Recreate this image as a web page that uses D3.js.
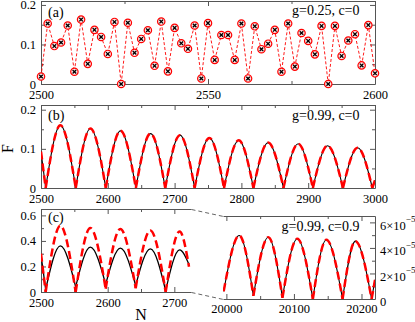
<!DOCTYPE html>
<html>
<head>
<meta charset="utf-8">
<script src="https://cdn.jsdelivr.net/npm/d3@7"></script>
<style>
  body { margin: 0; background: #fff; }
  svg text { font-family: "Liberation Serif", "DejaVu Serif", serif; fill: #000; }
</style>
</head>
<body>
<svg id="chart" width="415" height="322"></svg>
<script>
// (a) g=0.25, c=0 : discrete points
const aN = [2500, 2502, 2504, 2506, 2508, 2510, 2512, 2514, 2516, 2518, 2520, 2522, 2524, 2526, 2528, 2530, 2532,
  2534, 2536, 2538, 2540, 2542, 2544, 2546, 2548, 2550, 2552, 2554, 2556, 2558, 2560, 2562, 2564, 2566, 2568,
  2570, 2572, 2574, 2576, 2578, 2580, 2582, 2584, 2586, 2588, 2590, 2592, 2594, 2596, 2598, 2600];
const aF = [0.019, 0.153, 0.096, 0.105, 0.148, 0.031, 0.163, 0.051, 0.137, 0.119, 0.076, 0.157, 0.0, 0.155, 0.079,
  0.114, 0.136, 0.046, 0.158, 0.032, 0.142, 0.103, 0.089, 0.148, 0.014, 0.154, 0.061, 0.124, 0.124, 0.061, 0.153,
  0.014, 0.146, 0.088, 0.102, 0.137, 0.031, 0.153, 0.044, 0.129, 0.109, 0.075, 0.147, 0.0, 0.147, 0.071, 0.110,
  0.126, 0.047, 0.149, 0.027];

// (b) g=0.99, c=0 : extrema of the curve
const bN = [2500, 2507, 2529, 2552, 2574, 2597, 2619, 2642, 2664, 2686, 2708, 2730, 2752, 2774, 2796, 2818, 2840,
  2863, 2885, 2907, 2929, 2952, 2974, 2996, 3000];
const bF = [0.093, 0, 0.160, 0, 0.152, 0, 0.146, 0, 0.139, 0, 0.135, 0, 0.128, 0, 0.122, 0, 0.116, 0, 0.113, 0,
  0.108, 0, 0.103, 0, 0.02];

// (c) g=0.99, c=0.9 : left part (two curves) and zoomed right part
const cN = [2500, 2507, 2529, 2552, 2574, 2597, 2619, 2642, 2664, 2687, 2708, 2722];
const cRed = [0.30, 0.0, 0.519, 0.0, 0.501, 0.025, 0.493, 0.03, 0.482, 0.0, 0.474, 0.198];
const cBlack = [0.29, 0.02, 0.361, 0.04, 0.351, 0.06, 0.343, 0.05, 0.338, 0.01, 0.33, 0.215];
const dN = [19996, 20019, 20040, 20062, 20083, 20105, 20128, 20148, 20172, 20191, 20215, 20220];
const dF = [0.6e-5, 4.97e-5, 0.25e-5, 4.84e-5, 0.1e-5, 4.72e-5, 0, 4.64e-5, 0, 4.53e-5, 0, 1.5e-5];

// tick values
const xTicksA = [2500, 2550, 2600], xMinorA = [2525, 2575];
const xTicksB = [2500, 2600, 2700, 2800, 2900, 3000], xMinorB = [2550, 2650, 2750, 2850, 2950];
const xTicksC = [2500, 2600, 2700], xMinorC = [2550, 2650];
const xTicksD = [20000, 20100, 20200], xMinorD = [20050, 20150];
const yTicksAB = [0, 0.1, 0.2], yMinorAB = [0.05, 0.15];
const yTicksC = [0, 0.2, 0.4, 0.6], yMinorC = [0.1, 0.3, 0.5];
const yTicksD = [0, 2e-5, 4e-5, 6e-5], yMinorD = [1e-5, 3e-5, 5e-5];

const svg = d3.select("#chart");
const frameColor = "#555";
const font = "Liberation Serif, DejaVu Serif, serif";

function panel(id, xd, yd, x0, x1, y0, y1) {
  const x = d3.scaleLinear().domain(xd).range([x0, x1]);
  const y = d3.scaleLinear().domain(yd).range([y1, y0]);
  svg.append("clipPath").attr("id", id)
    .append("rect").attr("x", x0).attr("y", y0).attr("width", x1 - x0).attr("height", y1 - y0);
  const g = svg.append("g");
  return { g, x, y, x0, x1, y0, y1, clip: `url(#${id})` };
}

function ticks(p, axis, tf, values, size, fmt, pad) {
  axis.tickValues(values).tickSize(-size).tickSizeOuter(0).tickPadding(pad || 5);
  axis.tickFormat(fmt || "");
  const s = p.g.append("g").attr("transform", tf).call(axis)
    .attr("font-size", 12.5).attr("font-family", font);
  s.select(".domain").remove();
  s.selectAll("line").attr("stroke", frameColor);
  return s;
}

function frame(p, sides) {
  const l = (a, b, c, d) => p.g.append("line")
    .attr("x1", a).attr("y1", b).attr("x2", c).attr("y2", d)
    .attr("stroke", frameColor).attr("stroke-width", 1);
  const X0 = p.x0 + 0.5, X1 = p.x1 + 0.5, Y0 = p.y0 + 0.5, Y1 = p.y1 + 0.5;
  if (sides.includes("t")) l(X0, Y0, X1, Y0);
  if (sides.includes("b")) l(X0, Y1, X1, Y1);
  if (sides.includes("l")) l(X0, Y0, X0, Y1);
  if (sides.includes("r")) l(X1, Y0, X1, Y1);
}

// split a curve into arches at its local minima (cusps)
function arches(N, F) {
  const segs = [];
  let cur = [];
  for (let i = 0; i < N.length; i++) {
    cur.push([N[i], F[i]]);
    if (i > 0 && i < N.length - 1 && F[i] <= F[i - 1] && F[i] <= F[i + 1]) {
      segs.push(cur);
      cur = [[N[i], F[i]]];
    }
  }
  if (cur.length > 1) segs.push(cur);
  return segs;
}

function curve(p, N, F, color, width, dash) {
  const line = d3.line().x(d => p.x(d[0])).y(d => p.y(d[1])).curve(d3.curveMonotoneX);
  p.g.append("g").attr("clip-path", p.clip)
    .selectAll("path").data(arches(N, F)).enter().append("path")
    .attr("d", line)
    .attr("fill", "none")
    .attr("stroke", color)
    .attr("stroke-width", width)
    .attr("stroke-dasharray", dash || null);
}

const fmt = d => d === 0 ? "0" : String(d);

// ---- panel (a)
const A = panel("clipA", [2500, 2600], [0, 0.21], 41, 375, 1, 84);
frame(A, "tblr");
ticks(A, d3.axisBottom(A.x), `translate(0,${A.y1})`, xTicksA, 5, fmt, 6.5);
ticks(A, d3.axisBottom(A.x), `translate(0,${A.y1})`, xMinorA, 3);
ticks(A, d3.axisTop(A.x), `translate(0,${A.y0})`, xTicksA, 5);
ticks(A, d3.axisTop(A.x), `translate(0,${A.y0})`, xMinorA, 3);
ticks(A, d3.axisLeft(A.y), `translate(${A.x0},0)`, yTicksAB, 5, fmt);
ticks(A, d3.axisLeft(A.y), `translate(${A.x0},0)`, yMinorAB, 3);
ticks(A, d3.axisRight(A.y), `translate(${A.x1},0)`, yTicksAB, 5);
ticks(A, d3.axisRight(A.y), `translate(${A.x1},0)`, yMinorAB, 3);

A.g.append("path")
  .datum(aN.map((n, i) => [n, aF[i]]))
  .attr("d", d3.line().x(d => A.x(d[0])).y(d => A.y(d[1])))
  .attr("fill", "none").attr("stroke", "#f00").attr("stroke-width", 0.9)
  .attr("stroke-dasharray", "3,2");
const marks = A.g.selectAll("g.mark").data(aN.map((n, i) => [n, aF[i]])).enter().append("g")
  .attr("class", "mark")
  .attr("transform", d => `translate(${A.x(d[0])},${A.y(d[1])})`);
marks.append("circle").attr("r", 3.7).attr("fill", "#ffe4e4").attr("stroke", "#f00").attr("stroke-width", 1.2);
marks.append("path").attr("d", "M-1.8,-1.8L1.8,1.8M-1.8,1.8L1.8,-1.8")
  .attr("stroke", "#000").attr("stroke-width", 1.3);

// ---- panel (b)
const B = panel("clipB", [2500, 3000], [0, 0.212], 41, 375, 105, 188);
frame(B, "tblr");
ticks(B, d3.axisBottom(B.x), `translate(0,${B.y1})`, xTicksB, 5, fmt, 6);
ticks(B, d3.axisBottom(B.x), `translate(0,${B.y1})`, xMinorB, 3);
ticks(B, d3.axisTop(B.x), `translate(0,${B.y0})`, xTicksB, 5);
ticks(B, d3.axisTop(B.x), `translate(0,${B.y0})`, xMinorB, 3);
ticks(B, d3.axisLeft(B.y), `translate(${B.x0},0)`, yTicksAB, 5, fmt);
ticks(B, d3.axisLeft(B.y), `translate(${B.x0},0)`, yMinorAB, 3);
ticks(B, d3.axisRight(B.y), `translate(${B.x1},0)`, yTicksAB, 5);
ticks(B, d3.axisRight(B.y), `translate(${B.x1},0)`, yMinorAB, 3);
curve(B, bN, bF, "#000", 1.1);
curve(B, bN, bF, "#f00", 2.5, "8,4");

// ---- panel (c), left part
const C = panel("clipC", [2500, 2725], [0, 0.65], 41, 191, 209, 292);
frame(C, "tbl");
ticks(C, d3.axisBottom(C.x), `translate(0,${C.y1})`, xTicksC, 5, fmt, 6);
ticks(C, d3.axisBottom(C.x), `translate(0,${C.y1})`, xMinorC, 3);
ticks(C, d3.axisTop(C.x), `translate(0,${C.y0})`, xTicksC, 5);
ticks(C, d3.axisTop(C.x), `translate(0,${C.y0})`, xMinorC, 3);
ticks(C, d3.axisLeft(C.y), `translate(${C.x0},0)`, yTicksC, 5, fmt);
ticks(C, d3.axisLeft(C.y), `translate(${C.x0},0)`, yMinorC, 3);
curve(C, cN, cBlack, "#000", 1.3);
curve(C, cN, cRed, "#f00", 2.5, "8,4");

// ---- panel (c), zoomed right part
const D = panel("clipD", [19995, 20220], [0, 6.5e-5], 223, 375, 216, 299);
frame(D, "tbr");
ticks(D, d3.axisBottom(D.x), `translate(0,${D.y1})`, xTicksD, 5, fmt, 5.5);
ticks(D, d3.axisBottom(D.x), `translate(0,${D.y1})`, xMinorD, 3);
ticks(D, d3.axisTop(D.x), `translate(0,${D.y0})`, xTicksD, 5);
ticks(D, d3.axisTop(D.x), `translate(0,${D.y0})`, xMinorD, 3);
const dr = ticks(D, d3.axisRight(D.y), `translate(${D.x1},0)`, yTicksD, 5, d => d);
ticks(D, d3.axisRight(D.y), `translate(${D.x1},0)`, yMinorD, 3);
dr.selectAll("text").attr("dy", "0.55em").text(null).each(function (d) {
  const t = d3.select(this);
  if (d === 0) { t.text("0"); return; }
  t.append("tspan").text(`${Math.round(d * 1e5)}\u00d710`);
  t.append("tspan").attr("font-size", 9).attr("dy", "-0.85em").text("\u22125");
});
curve(D, dN, dF, "#000", 1.1);
curve(D, dN, dF, "#f00", 2.5, "8,4");

// dashed connectors between the two parts of (c)
[[C.y0, D.y0], [C.y1, D.y1]].forEach(([ya, yb]) => {
  svg.append("line")
    .attr("x1", C.x1 + 0.5).attr("y1", ya + 0.5).attr("x2", D.x0 + 0.5).attr("y2", yb + 0.5)
    .attr("stroke", "#666").attr("stroke-width", 1).attr("stroke-dasharray", "4,3");
});

// ---- texts
const label = (x, y, s, size, anchor) => svg.append("text")
  .attr("x", x).attr("y", y).attr("font-size", size).attr("text-anchor", anchor || "start").text(s);
label(48, 16.5, "(a)", 14);
label(48, 119.5, "(b)", 14);
label(48, 221.5, "(c)", 14);
label(359.5, 15, "g=0.25, c=0", 14, "end");
label(359.5, 120, "g=0.99, c=0", 14, "end");
label(359.5, 231, "g=0.99, c=0.9", 14, "end");
label(141, 319.5, "N", 16, "middle");
svg.append("text").attr("transform", "translate(13,148.5) rotate(-90)")
  .attr("font-size", 16).attr("text-anchor", "middle").text("F");
</script>
</body>
</html>
